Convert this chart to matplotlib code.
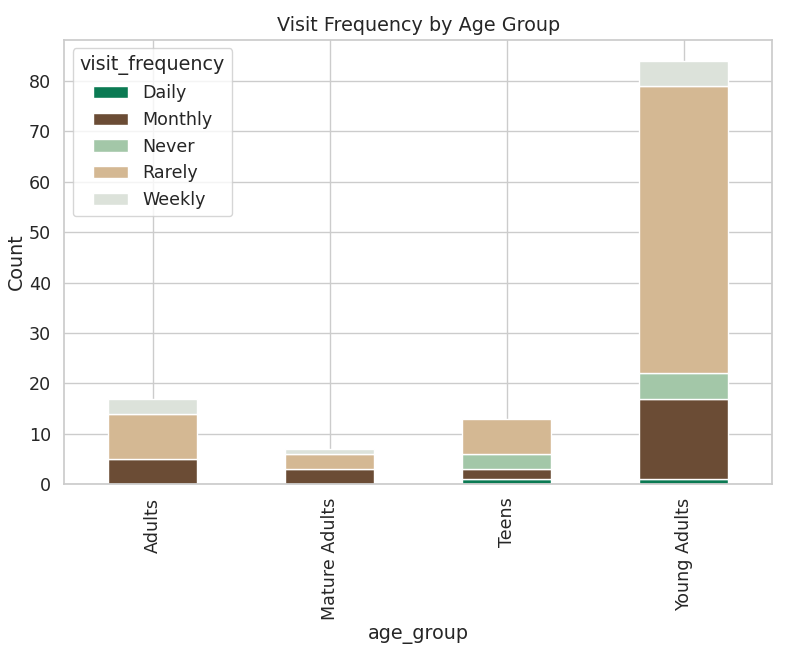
import numpy as np
import pandas as pd
import matplotlib
matplotlib.use('Agg')
import matplotlib.pyplot as plt
import seaborn as sns

# Data
age_groups = ['Adults', 'Mature Adults', 'Teens', 'Young Adults']
daily = [0, 0, 1, 1]
monthly = [5, 3, 2, 16]
never = [0, 0, 3, 5]
rarely = [9, 3, 7, 57]
weekly = [3, 1, 0, 5]

colors = ['#0b7a53', '#6b4c35', '#a3c7a8', '#d4b893', '#dce2da']

sns.set_theme(style='whitegrid', font_scale=1.15)

df = pd.DataFrame({'Daily': daily, 'Monthly': monthly, 'Never': never,
                   'Rarely': rarely, 'Weekly': weekly}, index=age_groups)
df.index.name = 'age_group'
df.columns.name = 'visit_frequency'

fig, ax = plt.subplots(figsize=(8.01, 6.59), dpi=100)
df.plot(kind='bar', stacked=True, color=colors, ax=ax, edgecolor='white')

ax.set_title('Visit Frequency by Age Group')
ax.set_ylabel('Count', labelpad=2)
ax.set_xlabel('age_group')
ax.legend(title='visit_frequency', loc='upper left')

fig.subplots_adjust(left=0.08, right=0.964, top=0.94, bottom=0.265)
fig.savefig('out.png')
